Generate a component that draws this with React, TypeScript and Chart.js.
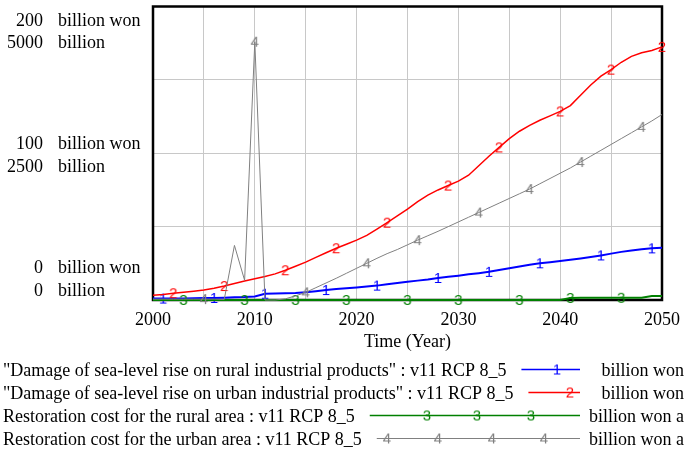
import React, { useEffect, useRef } from 'react';
import { Chart, registerables } from 'chart.js';

Chart.register(...registerables);

// ---------- DATA ----------
const years = [
  2000, 2001, 2002, 2003, 2004, 2005, 2006, 2007, 2008, 2009,
  2010, 2011, 2012, 2013, 2014, 2015, 2016, 2017, 2018, 2019,
  2020, 2021, 2022, 2023, 2024, 2025, 2026, 2027, 2028, 2029,
  2030, 2031, 2032, 2033, 2034, 2035, 2036, 2037, 2038, 2039,
  2040, 2041, 2042, 2043, 2044, 2045, 2046, 2047, 2048, 2049, 2050,
];

// billion won (left scale 0-200)
const ruralDamage = [
  1.0, 1.0, 1.0, 1.1, 1.2, 1.3, 1.4, 1.6, 1.8, 2.0,
  2.4, 4.3, 4.5, 4.6, 4.8, 5.3, 6.0, 6.8, 7.5, 8.0,
  8.6, 9.2, 9.8, 10.8, 11.6, 12.4, 13.2, 14.0, 15.0, 15.8,
  16.6, 17.5, 18.3, 19.2, 20.4, 21.6, 22.8, 24.0, 25.0, 25.8,
  26.6, 27.4, 28.3, 29.3, 30.4, 31.6, 32.8, 33.8, 34.6, 35.2, 35.6,
];
const urbanDamage = [
  3.2, 3.8, 4.6, 5.3, 6.0, 6.8, 8.0, 9.5, 11.3, 13.0,
  14.5, 16.0, 17.8, 20.3, 23.0, 25.8, 29.0, 32.2, 35.3, 38.0,
  40.8, 44.0, 48.3, 52.7, 57.3, 62.0, 67.0, 71.5, 75.0, 78.0,
  81.0, 85.0, 91.5, 98.0, 104.0, 110.0, 115.0, 119.0, 122.5, 125.5,
  128.5, 132.5, 139.5, 146.5, 152.5, 157.0, 162.0, 166.0, 168.5, 170.0, 172.5,
];
// billion won a (second scale 0-5000)
const ruralRestoration = [
  0, 0, 0, 0, 0, 0, 0, 0, 0, 0,
  0, 0, 0, 0, 0, 0, 0, 0, 0, 0,
  0, 0, 0, 0, 0, 0, 0, 0, 0, 0,
  0, 0, 0, 0, 0, 0, 0, 0, 0, 0,
  0, 35, 38, 38, 38, 38, 38, 38, 40, 68, 70,
];
const urbanRestoration = [
  15, 15, 15, 15, 15, 15, 15, 10, 930, 335,
  4400, 0, 0, 20, 70, 130, 210, 290, 370, 455,
  540, 625, 710, 790, 860, 940, 1020, 1095, 1170, 1250,
  1330, 1410, 1490, 1570, 1650, 1730, 1810, 1890, 1980, 2070,
  2160, 2250, 2350, 2450, 2550, 2650, 2750, 2850, 2950, 3050, 3160,
];

// years where the numbered marker is drawn on each curve
const ruralDamageMarks = [2001, 2006, 2011, 2017, 2022, 2028, 2033, 2038, 2044, 2049];
const urbanDamageMarks = [2002, 2007, 2013, 2018, 2023, 2029, 2034, 2040, 2045, 2050];
const ruralRestorationMarks = [2003, 2009, 2014, 2019, 2025, 2030, 2036, 2041, 2046];
const urbanRestorationMarks = [2005, 2010, 2015, 2021, 2026, 2032, 2037, 2042, 2048];

const seriesNames = [
  '"Damage of sea-level rise on rural industrial products" : v11 RCP 8_5',
  '"Damage of sea-level rise on urban industrial products" : v11 RCP 8_5',
  'Restoration cost for the rural area : v11 RCP 8_5',
  'Restoration cost for the urban area : v11 RCP 8_5',
];
const seriesUnits = ['billion won', 'billion won', 'billion won a', 'billion won a'];
const seriesDigits = ['1', '2', '3', '4'];

const xTickValues = [2000, 2010, 2020, 2030, 2040, 2050];
const xTitle = 'Time (Year)';
const yTickValues = [0, 100, 200];
const yTickLabelsA = ['0', '100', '200'];
const yTickLabelsB = ['0', '2500', '5000'];
const yUnitA = 'billion won';
const yUnitB = 'billion';

// ---------- STYLE ----------
const COLORS = ['#0000ff', '#ff0000', '#008000', '#808080'];
const WIDTHS = [2, 1.5, 2, 1];
const FONT = '18px "Liberation Serif"';
// legend marker offsets measured back from the legend line end
const legendMarkOffsets = [[23], [10], [153, 103, 49], [193, 142, 88, 36]];

function makeMarker(digit: string, color: string) {
  const c = document.createElement('canvas');
  c.width = 12;
  c.height = 16;
  const g = c.getContext('2d')!;
  g.font = '15px "Liberation Sans Narrow", "Liberation Sans"';
  g.fillStyle = color;
  g.textAlign = 'center';
  g.textBaseline = 'middle';
  g.fillText(digit, 6, 8.5);
  return c;
}

export default function App() {
  const ref = useRef<HTMLCanvasElement | null>(null);

  useEffect(() => {
    if (!ref.current) return;
    const markers = seriesDigits.map((d, i) => makeMarker(d, COLORS[i]));
    const allSeries = [ruralDamage, urbanDamage, ruralRestoration, urbanRestoration];
    const allMarks = [ruralDamageMarks, urbanDamageMarks, ruralRestorationMarks, urbanRestorationMarks];
    const axisIds = ['y', 'y', 'y2', 'y2'];

    const datasets = allSeries.map((vals, i) => ({
      label: seriesNames[i],
      data: years.map((yr, k) => ({ x: yr, y: vals[k] })),
      yAxisID: axisIds[i],
      borderColor: COLORS[i],
      backgroundColor: COLORS[i],
      borderWidth: WIDTHS[i],
      pointStyle: markers[i] as any,
      pointRadius: years.map((yr) => (allMarks[i].includes(yr) ? 5 : 0)),
      pointHoverRadius: 0,
      tension: 0,
      fill: false,
      clip: false as any,
      order: 4 - i,
    }));

    const overlay = {
      id: 'vensimOverlay',
      beforeDatasetsDraw(chart: any) {
        const { ctx, chartArea: a } = chart;
        ctx.save();
        ctx.strokeStyle = '#000';
        ctx.lineWidth = 2.5;
        ctx.strokeRect(a.left, a.top, a.right - a.left, a.bottom - a.top);
        ctx.restore();
      },
      afterDraw(chart: any) {
        const { ctx, chartArea: a } = chart;
        const xs = chart.scales.x;
        const ys = chart.scales.y;
        ctx.save();
        ctx.fillStyle = '#000';
        ctx.font = FONT;
        ctx.textBaseline = 'alphabetic';
        // x tick labels
        ctx.textAlign = 'center';
        xTickValues.forEach((v) => ctx.fillText(String(v), xs.getPixelForValue(v), a.bottom + 25));
        ctx.fillText(xTitle, (a.left + a.right) / 2, a.bottom + 47);
        // y tick labels (two scales stacked)
        yTickValues.forEach((v, i) => {
          const p = ys.getPixelForValue(v);
          let b1: number;
          if (i === yTickValues.length - 1) b1 = p + 19;
          else if (i === 0) b1 = p - 27;
          else b1 = p - 4;
          const b2 = b1 + 22.5;
          ctx.textAlign = 'right';
          ctx.fillText(yTickLabelsA[i], 43, b1);
          ctx.fillText(yTickLabelsB[i], 43, b2);
          ctx.textAlign = 'left';
          ctx.fillText(yUnitA, 58, b1);
          ctx.fillText(yUnitB, 58, b2);
        });
        // legend
        const lineEnd = 580;
        seriesNames.forEach((name, i) => {
          const base = a.bottom + 76 + i * 23;
          ctx.textAlign = 'left';
          ctx.fillStyle = '#000';
          ctx.fillText(name, 3, base);
          const tw = ctx.measureText(name).width;
          const ly = base - 6.5;
          ctx.strokeStyle = COLORS[i];
          ctx.lineWidth = WIDTHS[i] >= 1.5 ? 1.5 : 1;
          ctx.beginPath();
          ctx.moveTo(3 + tw + 15, ly);
          ctx.lineTo(lineEnd, ly);
          ctx.stroke();
          legendMarkOffsets[i].forEach((off) => {
            const m = markers[i];
            ctx.drawImage(m, lineEnd - off - m.width / 2, ly - m.height / 2);
          });
          ctx.textAlign = 'right';
          ctx.fillText(seriesUnits[i], 684, base);
        });
        ctx.restore();
      },
    };

    const chart = new Chart(ref.current, {
      type: 'line',
      data: { datasets: datasets as any },
      options: {
        animation: false,
        responsive: false,
        devicePixelRatio: 1,
        events: [],
        layout: { padding: { left: 0, top: 4, right: 23, bottom: 0 } },
        plugins: { legend: { display: false }, tooltip: { enabled: false }, title: { display: false } },
        scales: {
          x: {
            type: 'linear',
            min: 2000,
            max: 2050,
            ticks: { stepSize: 5, display: false },
            grid: { color: '#c8c8c8', lineWidth: 1, drawTicks: false },
            border: { display: false },
            afterFit: (s: any) => {
              s.height = 153;
            },
          },
          y: {
            type: 'linear',
            position: 'left',
            min: 0,
            max: 200,
            ticks: { stepSize: 50, display: false },
            grid: { color: '#c8c8c8', lineWidth: 1, drawTicks: false },
            border: { display: false },
            afterFit: (s: any) => {
              s.width = 153;
            },
          },
          y2: {
            type: 'linear',
            position: 'right',
            min: 0,
            max: 5000,
            display: false,
          },
        },
      } as any,
      plugins: [overlay],
    });
    return () => chart.destroy();
  }, []);

  return (
    <div style={{ position: 'absolute', left: 0, top: 0, width: 685, height: 453, background: '#fff' }}>
      <canvas ref={ref} width={685} height={453} style={{ display: 'block', width: 685, height: 453 }} />
    </div>
  );
}
